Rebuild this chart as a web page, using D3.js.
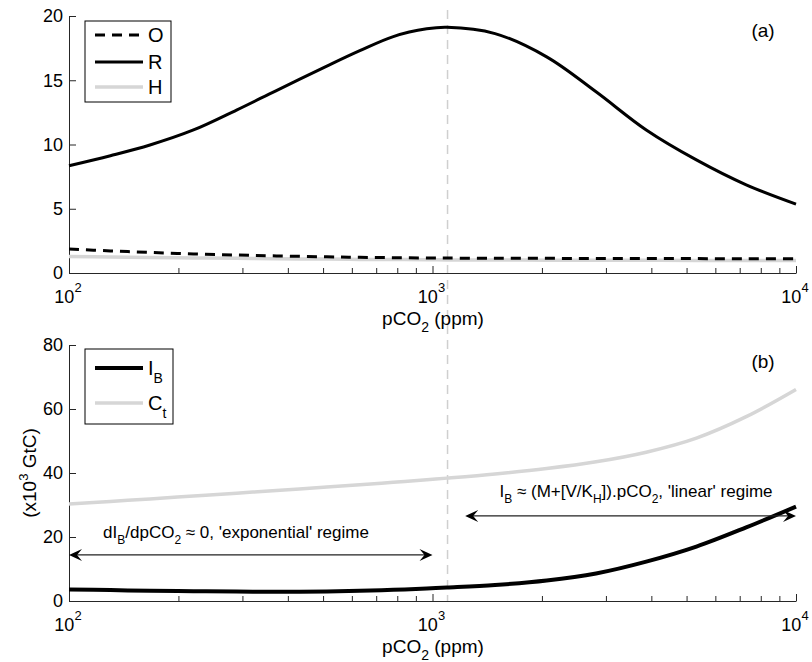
<!DOCTYPE html>
<html>
<head>
<meta charset="utf-8">
<script src="https://cdn.jsdelivr.net/npm/d3@7"></script>
<style>
  body { margin: 0; background: #fff; }
  svg { display: block; font-family: "Liberation Sans", Arial, Helvetica, sans-serif; }
</style>
</head>
<body>
<svg id="chart" width="812" height="662"></svg>
<script>
// ---- data ----
const pco2 = [100,130,167,220,289,372,512,631,780,964,1096,1486,2061,2818,3873,5321,7295,10000];
const seriesO = [1.86,1.72,1.60,1.48,1.40,1.33,1.26,1.22,1.19,1.17,1.16,1.15,1.14,1.13,1.12,1.12,1.11,1.11];
const seriesR = [8.35,9.13,9.96,11.13,12.68,14.2,16.1,17.3,18.4,19.0,19.12,18.63,16.82,14.1,11.13,8.8,6.86,5.36];
const seriesH = [1.29,1.25,1.21,1.17,1.14,1.11,1.08,1.06,1.05,1.03,1.02,1.01,1.00,0.99,0.99,0.98,0.98,0.98];
const seriesIB = [3.6,3.4,3.2,3.05,2.95,2.9,3.0,3.2,3.5,3.9,4.2,5.0,6.4,8.6,12.3,17.0,23.0,29.5];
const seriesCt = [30.3,31.1,31.9,32.8,33.7,34.5,35.6,36.3,37.1,37.9,38.4,39.7,41.4,43.5,46.5,50.9,57.6,66.1];
const xMajorTicks = [100, 1000, 10000];
const xTickExponents = ["2", "3", "4"];
const yTopTicks = [0, 5, 10, 15, 20];
const yBottomTicks = [0, 20, 40, 60, 80];
const markerPco2 = 1100;
const arrowLeft = {from: 100, to: 1000, y: 14.4};
const arrowRight = {from: 1230, to: 10000, y: 26.6};

// ---- layout ----
const svg = d3.select("#chart");
const x = d3.scaleLog().domain([100, 10000]).range([69, 796]);
const yTop = d3.scaleLinear().domain([0, 20]).range([273, 16]);
const yBot = d3.scaleLinear().domain([0, 80]).range([601, 345]);
const axisColor = "#262626";
const minorTicks = [];
[100, 1000].forEach(d => { for (let k = 2; k <= 9; k++) minorTicks.push(d * k); });

function drawAxes(y, yTicks) {
  const y0 = y.range()[0];
  svg.append("g").attr("transform", `translate(0,${y0})`)
    .call(d3.axisBottom(x).tickValues(minorTicks).tickSizeInner(-5).tickSizeOuter(0).tickFormat(""))
    .call(g => g.select(".domain").remove())
    .call(g => g.selectAll("line").attr("stroke", axisColor));
  const gx = svg.append("g").attr("transform", `translate(0,${y0})`)
    .call(d3.axisBottom(x).tickValues(xMajorTicks).tickSizeInner(-7).tickSizeOuter(0).tickFormat(""));
  gx.select(".domain").attr("stroke", axisColor);
  gx.selectAll("line").attr("stroke", axisColor);
  xMajorTicks.forEach((v, i) => {
    const t = svg.append("text").attr("x", x(v) - 1).attr("y", y0 + 30)
      .attr("text-anchor", "middle").attr("font-size", 18).attr("fill", "#000");
    t.append("tspan").text("10");
    t.append("tspan").attr("dy", -11).attr("font-size", 13).text(xTickExponents[i]);
  });
  const gy = svg.append("g").attr("transform", `translate(${x.range()[0]},0)`)
    .call(d3.axisLeft(y).tickValues(yTicks).tickSizeInner(-7).tickSizeOuter(0).tickPadding(6));
  gy.select(".domain").attr("stroke", axisColor);
  gy.selectAll("line").attr("stroke", axisColor);
  gy.selectAll("text").attr("font-size", 18).attr("fill", "#000")
    .attr("font-family", "Liberation Sans, Arial, sans-serif");
  const lab = svg.append("text").attr("x", 433).attr("y", y0 + 52)
    .attr("text-anchor", "middle").attr("font-size", 19);
  lab.append("tspan").text("pCO");
  lab.append("tspan").attr("dy", 7).attr("font-size", 14).text("2");
  lab.append("tspan").attr("dy", -7).text(" (ppm)");
}

svg.append("line").attr("x1", x(markerPco2)).attr("x2", x(markerPco2))
  .attr("y1", 10).attr("y2", yBot(0))
  .attr("stroke", "#cfcfcf").attr("stroke-width", 1.5).attr("stroke-dasharray", "9,6");

drawAxes(yTop, yTopTicks);
drawAxes(yBot, yBottomTicks);

function line(y, vals) {
  return d3.line().x((d, i) => x(pco2[i])).y(d => y(d)).curve(d3.curveCatmullRom.alpha(0.5))(vals);
}

svg.append("path").attr("d", line(yTop, seriesH)).attr("fill", "none")
  .attr("stroke", "#d6d6d6").attr("stroke-width", 3.5);
svg.append("path").attr("d", line(yTop, seriesO)).attr("fill", "none")
  .attr("stroke", "#000").attr("stroke-width", 3).attr("stroke-dasharray", "10,7");
svg.append("path").attr("d", line(yTop, seriesR)).attr("fill", "none")
  .attr("stroke", "#000").attr("stroke-width", 3);

svg.append("path").attr("d", line(yBot, seriesCt)).attr("fill", "none")
  .attr("stroke", "#d6d6d6").attr("stroke-width", 3.5);
svg.append("path").attr("d", line(yBot, seriesIB)).attr("fill", "none")
  .attr("stroke", "#000").attr("stroke-width", 4);

svg.append("text").attr("x", 763).attr("y", 37).attr("text-anchor", "middle").attr("font-size", 19).text("(a)");
svg.append("text").attr("x", 763).attr("y", 368).attr("text-anchor", "middle").attr("font-size", 19).text("(b)");

function legend(x0, y0, w, h, items) {
  svg.append("rect").attr("x", x0).attr("y", y0).attr("width", w).attr("height", h)
    .attr("fill", "#fff").attr("stroke", "#000").attr("stroke-width", 1);
  items.forEach(it => {
    svg.append("line").attr("x1", x0 + 10).attr("x2", x0 + 58).attr("y1", it.y).attr("y2", it.y)
      .attr("stroke", it.color).attr("stroke-width", it.width).attr("stroke-dasharray", it.dash || null);
    const t = svg.append("text").attr("x", x0 + 63).attr("y", it.y + 7).attr("font-size", 20);
    t.append("tspan").text(it.label);
    if (it.sub) t.append("tspan").attr("dy", 8).attr("font-size", 14).text(it.sub);
  });
}
legend(85, 21, 86, 81, [
  {label: "O", y: 35, color: "#000", width: 3, dash: "10,7"},
  {label: "R", y: 62, color: "#000", width: 3},
  {label: "H", y: 87, color: "#d6d6d6", width: 3.5}
]);
legend(85, 349, 88, 75, [
  {label: "I", sub: "B", y: 368, color: "#000", width: 4},
  {label: "C", sub: "t", y: 403, color: "#d6d6d6", width: 3.5}
]);

const yl = svg.append("text").attr("transform", `translate(36,${yBot(40)}) rotate(-90)`)
  .attr("text-anchor", "middle").attr("font-size", 19);
yl.append("tspan").text("(x10");
yl.append("tspan").attr("dy", -8).attr("font-size", 13).text("3");
yl.append("tspan").attr("dy", 8).text(" GtC)");

function dblArrow(a) {
  const y = yBot(a.y), x1 = x(a.from), x2 = x(a.to);
  svg.append("line").attr("x1", x1 + 4).attr("x2", x2 - 4).attr("y1", y).attr("y2", y)
    .attr("stroke", "#222").attr("stroke-width", 1.2);
  const head = (tip, dir) => {
    const L = 13, W = 6, back = 8;
    const p = [[tip, y], [tip + dir * L, y - W], [tip + dir * back, y], [tip + dir * L, y + W]];
    svg.append("path").attr("d", "M" + p.map(q => q.join(",")).join("L") + "Z").attr("fill", "#000");
  };
  head(x1, 1); head(x2, -1);
}
dblArrow(arrowLeft);
dblArrow(arrowRight);

const t1 = svg.append("text").attr("x", x(288)).attr("y", yBot(arrowLeft.y) - 17)
  .attr("text-anchor", "middle").attr("font-size", 17);
t1.append("tspan").text("dI");
t1.append("tspan").attr("dy", 6).attr("font-size", 12).text("B");
t1.append("tspan").attr("dy", -6).text("/dpCO");
t1.append("tspan").attr("dy", 6).attr("font-size", 12).text("2");
t1.append("tspan").attr("dy", -6).text(" \u2248 0, 'exponential' regime");

const t2 = svg.append("text").attr("x", x(3630)).attr("y", yBot(arrowRight.y) - 19)
  .attr("text-anchor", "middle").attr("font-size", 17);
t2.append("tspan").text("I");
t2.append("tspan").attr("dy", 6).attr("font-size", 12).text("B");
t2.append("tspan").attr("dy", -6).text(" \u2248 (M+[V/K");
t2.append("tspan").attr("dy", 6).attr("font-size", 12).text("H");
t2.append("tspan").attr("dy", -6).text("]).pCO");
t2.append("tspan").attr("dy", 6).attr("font-size", 12).text("2");
t2.append("tspan").attr("dy", -6).text(", 'linear' regime");
</script>
</body>
</html>
